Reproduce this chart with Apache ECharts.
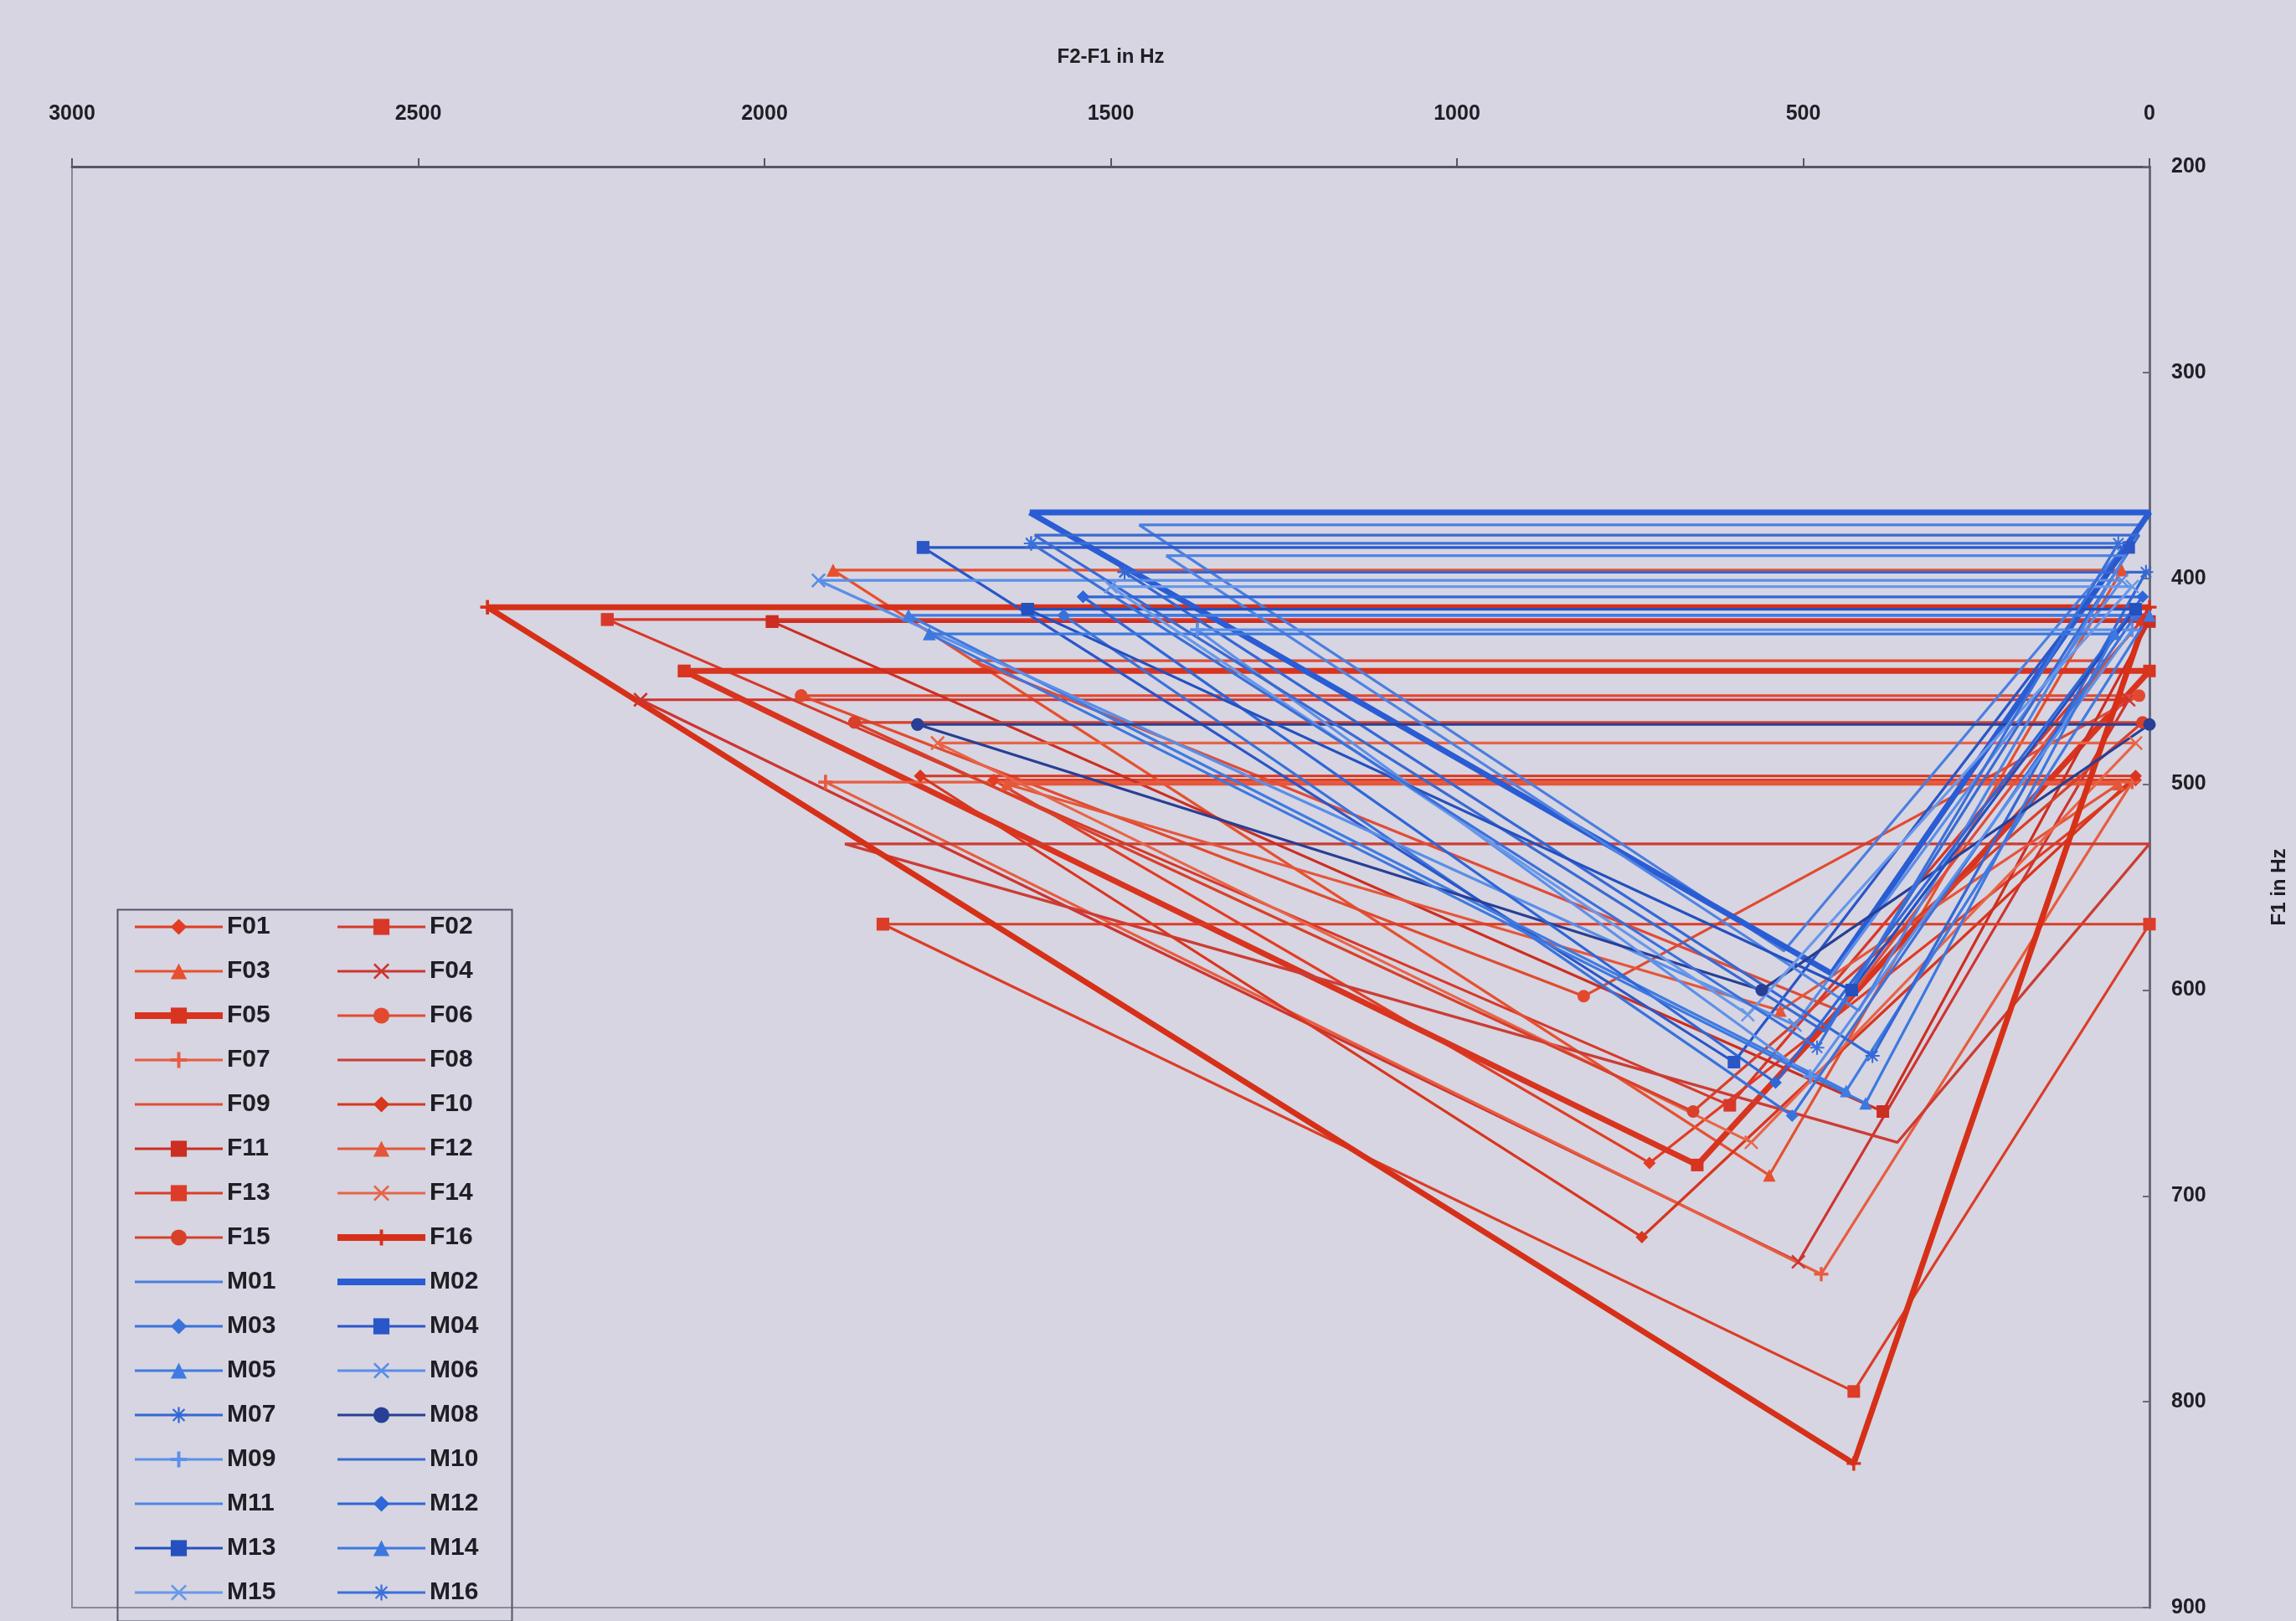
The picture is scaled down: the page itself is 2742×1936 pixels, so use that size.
<!DOCTYPE html>
<html><head><meta charset="utf-8">
<script src="https://cdn.jsdelivr.net/npm/echarts@6/dist/echarts.min.js"></script>
<style>html,body{margin:0;padding:0;background:#d6d5e1}#c{width:2742px;height:1936px}</style>
</head><body><div id="c"></div>
<script>
// ---- data ----
const speakers = ['F01','F02','F03','F04','F05','F06','F07','F08','F09','F10','F11','F12','F13','F14','F15','F16',
                  'M01','M02','M03','M04','M05','M06','M07','M08','M09','M10','M11','M12','M13','M14','M15','M16'];
// /i/ point: F2-F1 and F1
const iF2F1 = [1669,2227,1901,2179,2116,1947,1912,1884,1700,1775,1989,1650,1829,1750,1870,2400,
               1459,1617,1568,1771,1792,1922,1480,1779,1375,1610,1420,1540,1620,1762,1500,1615];
const iF1   = [498,420,396,459,445,457,499,529,440,496,421,500,568,480,470,414,
               374,368,418,385,418,401,397,471,425,379,389,409,415,427,404,383];
// /a/ point
const aF2F1 = [722,606,549,507,653,817,474,364,448,733,385,533,427,575,659,427,
               528,459,516,600,438,512,400,560,490,470,420,540,430,410,580,480];
const aF1   = [684,656,690,732,685,603,738,674,610,720,659,610,795,674,659,830,
               581,592,661,635,649,617,632,600,642,620,610,645,600,655,612,628];
// /u/ point
const uF2F1 = [20,10,40,30,0,15,25,0,60,20,0,45,0,20,10,0,
               10,0,20,30,0,40,5,0,25,15,35,10,20,50,25,45];
const uF1   = [498,420,396,459,445,457,499,529,440,496,421,500,568,480,470,414,
               374,368,418,385,418,401,397,471,425,379,389,409,415,427,404,383];
const xTicks = {min:0, max:3000, step:500};
const yTicks = {min:200, max:900, step:100};

// ---- styles ----
const X_PATH = 'path://M0,1L1,0L5,4L9,0L10,1L6,5L10,9L9,10L5,6L1,10L0,9L4,5Z';
const PLUS_PATH = 'path://M4,0H6V4H10V6H6V10H4V6H0V4H4Z';
const STAR_PATH = 'path://M4.4,0H5.6V3.6L8.2,1L9,1.8L6.4,4.4H10V5.6H6.4L9,8.2L8.2,9L5.6,6.4V10H4.4V6.4L1.8,9L1,8.2L3.6,5.6H0V4.4H3.6L1,1.8L1.8,1L4.4,3.6Z';
const SYM = {diamond:'diamond', rect:'rect', triangle:'triangle', circle:'circle', x:X_PATH, plus:PLUS_PATH, star:STAR_PATH, none:'none'};
const markerKeys = ['diamond','rect','triangle','x','rect','circle','plus','none','none','diamond','rect','triangle','rect','x','circle','plus',
                    'none','none','diamond','rect','triangle','x','star','circle','plus','none','none','diamond','rect','triangle','x','star'];
const thick = {F05:true, F16:true, M02:true};
const reds = ['#e23c24','#d8382a','#e6502f','#cf3430','#d8341f','#e24a30','#e85c40','#cc3c34','#e04c38','#d8361f','#cc2e22','#e4563a','#dc3c28','#e86448','#d8402a','#d63018'];
const blues = ['#4a7ee0','#2a5cd4','#3a72dc','#2a56c8','#3f7be2','#5a8ee8','#3468d6','#283f95','#5c90ea','#3a6ad2','#4f84e4','#2f66d8','#2450c0','#3c78e0','#6898ea','#3a70da'];
const FONT = "'Liberation Sans Narrow','Liberation Sans',Arial,sans-serif";

const series = speakers.map((name, k) => {
  const isF = name[0] === 'F';
  const color = isF ? reds[k] : blues[k - 16];
  const pts = [[iF2F1[k], iF1[k]], [aF2F1[k], aF1[k]], [uF2F1[k], uF1[k]], [iF2F1[k], iF1[k]]];
  const mk = markerKeys[k];
  return {
    name, type: 'line', data: pts,
    symbol: SYM[mk], symbolSize: mk === 'x' || mk === 'plus' || mk === 'star' ? 17 : 15,
    showSymbol: mk !== 'none',
    lineStyle: {color, width: thick[name] ? 7 : 3.2},
    itemStyle: {color},
    animation: false, emphasis: {disabled: true}
  };
});

const legendItem = (name) => {
  const k = speakers.indexOf(name);
  const item = {name, lineStyle: {width: thick[name] ? 8 : 3}};
  if (markerKeys[k] === 'none') item.itemStyle = {color: 'rgba(0,0,0,0)', borderWidth: 0};
  return item;
};
const odd = speakers.filter((_, k) => k % 2 === 0).map(legendItem);
const even = speakers.filter((_, k) => k % 2 === 1).map(legendItem);
const legendCommon = {
  orient: 'vertical', top: 1088, itemWidth: 105, itemHeight: 24, itemGap: 15, padding: 0,
  textStyle: {fontSize: 30, fontWeight: 'bold', color: '#1e1e24', fontFamily: FONT, lineHeight: 38}
};

const chart = echarts.init(document.getElementById('c'), null, {renderer: 'canvas'});
chart.setOption({
  backgroundColor: '#d6d5e1',
  animation: false,
  grid: {left: 86, right: 165, top: 199, bottom: 16, show: true, borderColor: '#8a8a96', borderWidth: 2, backgroundColor: 'transparent'},
  xAxis: {
    type: 'value', position: 'top', inverse: true, min: xTicks.min, max: xTicks.max, interval: xTicks.step,
    name: 'F2-F1 in Hz', nameLocation: 'middle', nameGap: 119,
    nameTextStyle: {fontSize: 24, fontWeight: 'bold', color: '#1e1e24', fontFamily: FONT},
    axisLine: {show: true, lineStyle: {color: '#55556a', width: 3}},
    axisTick: {show: true, inside: false, length: 10, lineStyle: {color: '#55556a', width: 2}},
    axisLabel: {margin: 50, fontSize: 25, fontWeight: 'bold', color: '#1e1e24', fontFamily: FONT, formatter: v => String(v)},
    splitLine: {show: false}
  },
  yAxis: {
    type: 'value', position: 'right', inverse: true, min: yTicks.min, max: yTicks.max, interval: yTicks.step,
    name: 'F1 in Hz', nameLocation: 'middle', nameGap: 143, nameRotate: 90,
    nameTextStyle: {fontSize: 24, fontWeight: 'bold', color: '#1e1e24', fontFamily: FONT},
    axisLine: {show: true, lineStyle: {color: '#6a6a7e', width: 3}},
    axisTick: {show: true, inside: true, length: 8, lineStyle: {color: '#6a6a7e', width: 2}},
    axisLabel: {margin: 26, fontSize: 25, fontWeight: 'bold', color: '#1e1e24', fontFamily: FONT, formatter: v => String(v)},
    splitLine: {show: false}
  },
  legend: [
    Object.assign({left: 157, data: odd}, legendCommon),
    Object.assign({left: 399, data: even}, legendCommon)
  ],
  graphic: [{
    type: 'rect', left: 138, top: 1084, z: 100, silent: true,
    shape: {width: 471, height: 850},
    style: {fill: 'none', stroke: '#55556a', lineWidth: 2}
  }],
  series
});
</script></body></html>
